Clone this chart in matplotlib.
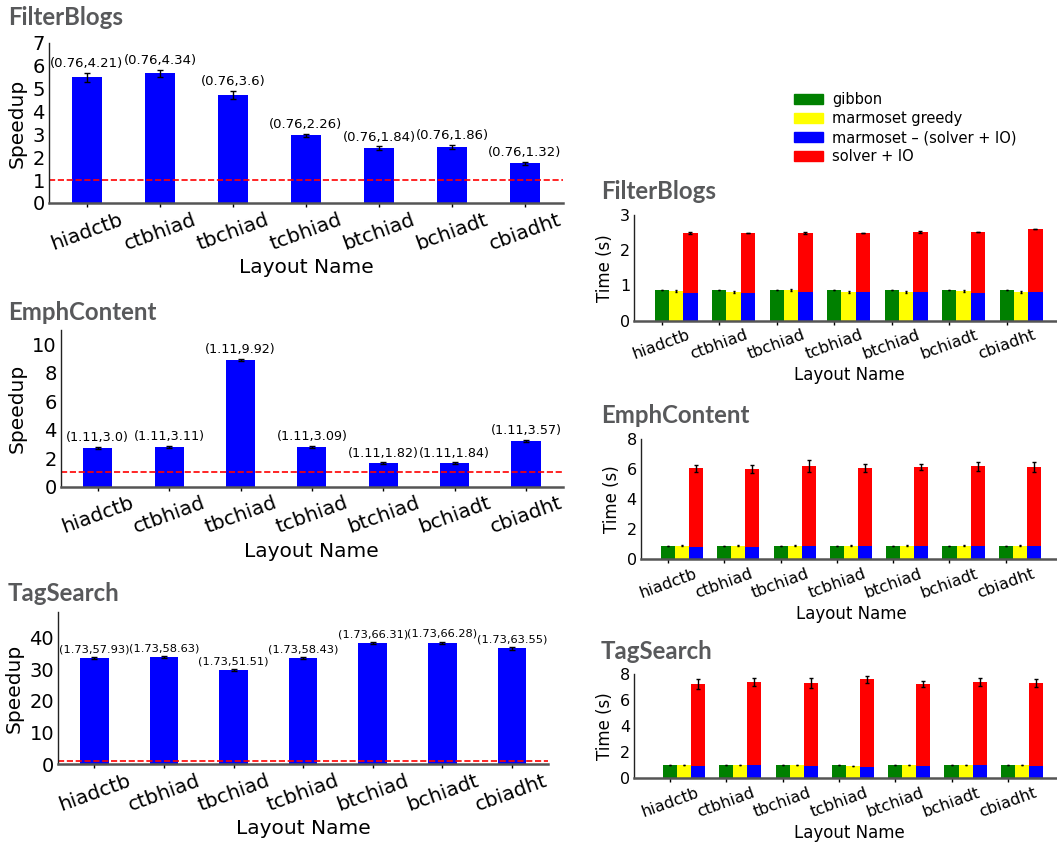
import numpy as np
import matplotlib
matplotlib.use("Agg")
import matplotlib.pyplot as plt
from matplotlib.patches import Patch

layouts = ["hiadctb", "ctbhiad", "tbchiad", "tcbhiad", "btchiad", "bchiadt", "cbiadht"]

# speedup panels (left)
fb_speedup = [5.5, 5.67, 4.71, 2.96, 2.39, 2.44, 1.74]
fb_speedup_err = [0.2, 0.17, 0.18, 0.07, 0.09, 0.09, 0.06]
fb_notes = ["(0.76,4.21)", "(0.76,4.34)", "(0.76,3.6)", "(0.76,2.26)", "(0.76,1.84)", "(0.76,1.86)", "(0.76,1.32)"]

ec_speedup = [2.72, 2.79, 8.9, 2.79, 1.66, 1.66, 3.21]
ec_speedup_err = [0.05, 0.05, 0.08, 0.05, 0.04, 0.04, 0.05]
ec_notes = ["(1.11,3.0)", "(1.11,3.11)", "(1.11,9.92)", "(1.11,3.09)", "(1.11,1.82)", "(1.11,1.84)", "(1.11,3.57)"]

ts_speedup = [33.5, 33.8, 29.7, 33.5, 38.3, 38.3, 36.6]
ts_speedup_err = [0.4, 0.3, 0.4, 0.3, 0.3, 0.4, 0.4]
ts_notes = ["(1.73,57.93)", "(1.73,58.63)", "(1.73,51.51)", "(1.73,58.43)", "(1.73,66.31)", "(1.73,66.28)", "(1.73,63.55)"]

# time panels (right)
fb_gibbon = [0.87, 0.87, 0.87, 0.87, 0.87, 0.87, 0.87]
fb_greedy = [0.84, 0.81, 0.87, 0.81, 0.81, 0.84, 0.81]
fb_marm = [0.79, 0.79, 0.81, 0.81, 0.81, 0.79, 0.81]
fb_total = [2.49, 2.49, 2.49, 2.49, 2.52, 2.52, 2.6]
fb_total_err = [0.02, 0.01, 0.02, 0.01, 0.02, 0.01, 0.01]

ec_gibbon = [0.91, 0.91, 0.91, 0.91, 0.91, 0.91, 0.91]
ec_greedy = [0.91, 0.91, 0.91, 0.91, 0.91, 0.91, 0.91]
ec_marm = [0.82, 0.82, 0.91, 0.91, 0.91, 0.91, 0.91]
ec_total = [6.07, 6.0, 6.2, 6.07, 6.13, 6.2, 6.13]
ec_total_err = [0.25, 0.27, 0.39, 0.27, 0.2, 0.32, 0.33]

ts_gibbon = [1.0, 1.0, 1.0, 1.0, 1.0, 1.0, 1.0]
ts_greedy = [1.0, 1.0, 1.0, 0.93, 1.0, 1.0, 1.0]
ts_marm = [0.93, 1.0, 0.93, 0.85, 0.93, 1.0, 0.93]
ts_total = [7.25, 7.38, 7.33, 7.61, 7.25, 7.4, 7.33]
ts_total_err = [0.36, 0.3, 0.35, 0.27, 0.25, 0.3, 0.33]

W, H = 1057, 843
fig = plt.figure(figsize=(W / 100, H / 100), dpi=100)


def box(x0, y0, x1, y1):
    return [x0 / W, 1 - y1 / H, (x1 - x0) / W, (y1 - y0) / H]


def style(ax, xfs, yfs):
    ax.spines["top"].set_visible(False)
    ax.spines["right"].set_visible(False)
    ax.spines["left"].set_color("#222222")
    ax.spines["left"].set_linewidth(1.0)
    ax.spines["bottom"].set_color("#555555")
    ax.spines["bottom"].set_linewidth(1.8)
    ax.tick_params(axis="y", length=0, pad=3, labelsize=yfs)
    ax.tick_params(axis="x", length=3, width=1, pad=2, labelsize=xfs)


def title(x, y, s):
    fig.text(x / W, 1 - y / H, s, fontsize=17.3, fontweight="bold",
             family=["Lato", "DejaVu Sans"], color="#58595b", va="baseline")


def speedup_panel(rect, vals, errs, notes, note_fs, ylim, yticks, name, ty):
    ax = fig.add_axes(box(*rect))
    x = np.arange(len(layouts))
    ax.bar(x, vals, 0.41, color="blue", yerr=errs, ecolor="black",
           capsize=2, error_kw={"elinewidth": 1})
    for xi, v, e, s in zip(x, vals, errs, notes):
        ax.annotate(s, (xi, v + e), xytext=(0, 2), textcoords="offset points",
                    ha="center", va="bottom", fontsize=note_fs)
    ax.axhline(1, color="red", ls="--", lw=1.2)
    ax.set_xlim(-0.52, 6.52)
    ax.set_ylim(*ylim)
    ax.set_yticks(yticks)
    ax.set_xticks(x)
    ax.set_xticklabels(layouts, rotation=20)
    style(ax, 14.5, 14)
    ax.set_ylabel("Speedup", fontsize=14.5, labelpad=4)
    ax.set_xlabel("Layout Name", fontsize=14.5, labelpad=3.5)
    title(8, ty, name)
    return ax


def time_panel(rect, x0, gib, gre, marm, total, terr, ylim, yticks, name, ty):
    ax = fig.add_axes(box(*rect))
    x = np.arange(len(layouts))
    w = 0.25
    solver = np.array(total) - np.array(marm)
    ekw = {"elinewidth": 1}
    ax.bar(x, gib, w, color="green", yerr=0.01, ecolor="black", capsize=1, error_kw=ekw)
    ax.bar(x + w, gre, w, color="yellow", yerr=0.02, ecolor="black", capsize=1, error_kw=ekw)
    ax.bar(x + 2 * w, marm, w, color="blue")
    ax.bar(x + 2 * w, solver, w, bottom=marm, color="red", yerr=terr,
           ecolor="black", capsize=1.5, error_kw=ekw)
    ax.set_xlim(-x0, 7.0)
    ax.set_ylim(*ylim)
    ax.set_yticks(yticks)
    ax.set_xticks(x)
    ax.set_xticklabels(layouts, rotation=20)
    style(ax, 11.5, 11.5)
    ax.set_ylabel("Time (s)", fontsize=12, labelpad=4)
    ax.set_xlabel("Layout Name", fontsize=12, labelpad=3)
    title(601, ty, name)
    return ax


speedup_panel((49, 43, 563, 203), fb_speedup, fb_speedup_err, fb_notes, 9.5,
              (0, 7), range(0, 8), "FilterBlogs", 25)
speedup_panel((60.7, 330, 563, 486.7), ec_speedup, ec_speedup_err, ec_notes, 9.2,
              (0, 11), range(0, 11, 2), "EmphContent", 319.5)
speedup_panel((58.2, 612.3, 548, 764), ts_speedup, ts_speedup_err, ts_notes, 8.2,
              (0, 48), range(0, 41, 10), "TagSearch", 600.7)

time_panel((634.3, 215, 661.7 + 7.0 * 57.5, 320.7), 27.4 / 57.5, fb_gibbon, fb_greedy, fb_marm,
           fb_total, fb_total_err, (0, 3), range(0, 4), "FilterBlogs", 199)
time_panel((641, 439.3, 668 + 7.0 * 56.3, 559.3), 27 / 56.3, ec_gibbon, ec_greedy, ec_marm,
           ec_total, ec_total_err, (0, 8), range(0, 9, 2), "EmphContent", 422.7)
time_panel((634.3, 674.3, 670 + 7.0 * 56.3, 778), 35.7 / 56.3, ts_gibbon, ts_greedy, ts_marm,
           ts_total, ts_total_err, (0, 8), range(0, 9, 2), "TagSearch", 659.3)

handles = [Patch(color="green"), Patch(color="yellow"), Patch(color="blue"), Patch(color="red")]
labels = ["gibbon", "marmoset greedy", "marmoset – (solver + IO)", "solver + IO"]
fig.legend(handles, labels, loc="upper left", bbox_to_anchor=(794 / W, 1 - 92 / H),
           frameon=False, fontsize=10.5, borderpad=0, borderaxespad=0,
           handlelength=2.0, handletextpad=0.6, labelspacing=0.28)

fig.savefig("out.png", dpi=100)
